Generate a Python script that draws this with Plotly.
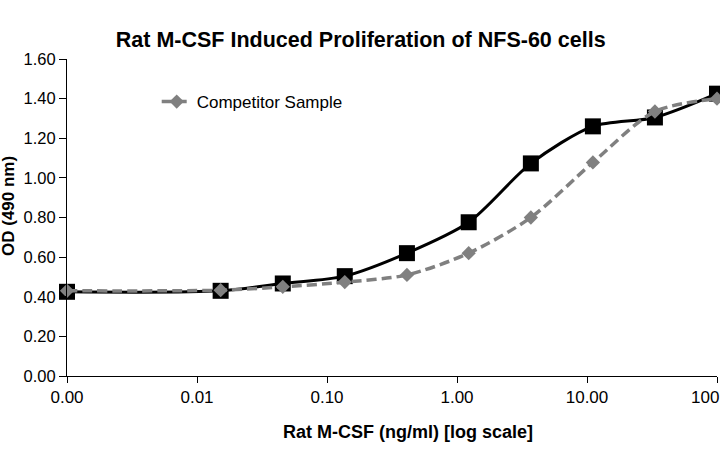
import plotly.graph_objects as go

# Concentrations (ng/ml); first point is the no-cytokine control shown at the axis start
conc = [0.001, 0.0152, 0.0457, 0.137, 0.412, 1.23, 3.70, 11.1, 33.3, 100]
rat_mcsf = [0.425, 0.43, 0.467, 0.504, 0.62, 0.776, 1.073, 1.26, 1.305, 1.425]
competitor = [0.43, 0.433, 0.45, 0.474, 0.51, 0.62, 0.80, 1.078, 1.335, 1.40]

x_tickvals = [0.001, 0.01, 0.1, 1, 10, 100]
x_ticktext = ["0.00", "0.01", "0.10", "1.00", "10.00", "100.00"]

FONT = "Liberation Sans, Arial, sans-serif"

fig = go.Figure()
fig.add_trace(go.Scatter(
    x=conc, y=rat_mcsf, mode="lines+markers", name="Rat M-CSF",
    line=dict(color="black", width=3, shape="spline", smoothing=0.8),
    marker=dict(symbol="square", size=16, color="black"),
    showlegend=False, cliponaxis=False,
))
fig.add_trace(go.Scatter(
    x=conc, y=competitor, mode="lines+markers", name="Competitor Sample",
    line=dict(color="#808080", width=3.5, shape="spline", smoothing=0.8, dash="10px,5px"),
    marker=dict(symbol="diamond", size=11, color="#808080"),
    cliponaxis=False,
))

fig.update_layout(
    width=720, height=450,
    margin=dict(l=67, r=3, t=59, b=74, autoexpand=False),
    paper_bgcolor="white", plot_bgcolor="white",
    font=dict(family=FONT, size=16, color="black"),
    title=dict(text="<b>Rat M-CSF Induced Proliferation of NFS-60 cells</b>",
               x=0.501, xanchor="center", y=1 - 39 / 450, yanchor="middle",
               font=dict(size=21.5, color="black")),
    legend=dict(x=0.138, y=0.921, xanchor="left", yanchor="top",
                bgcolor="rgba(0,0,0,0)", font=dict(size=17, color="black")),
    xaxis=dict(type="log", range=[-3, 2], tickvals=x_tickvals, ticktext=x_ticktext,
               showgrid=False, zeroline=False, showline=True, linecolor="black", linewidth=1,
               ticks="outside", ticklen=6, tickcolor="black", ticklabeloverflow="allow",
               automargin=False, tickfont=dict(size=17)),
    yaxis=dict(range=[0, 1.6], dtick=0.2, tickformat=".2f", automargin=False,
               showgrid=False, zeroline=False, showline=True, linecolor="black", linewidth=1,
               ticks="outside", ticklen=7, tickcolor="black", tickfont=dict(size=16.5)),
    annotations=[
        dict(text="<b>Rat M-CSF (ng/ml) [log scale]</b>", xref="paper", yref="paper",
             x=(408 - 67) / 650, y=(376 - 432) / 317, xanchor="center", yanchor="middle",
             showarrow=False, font=dict(size=18, color="black")),
        dict(text="<b>OD (490 nm)</b>", xref="paper", yref="paper",
             x=(8 - 67) / 650, y=(376 - 206) / 317, xanchor="center", yanchor="middle",
             textangle=-90, showarrow=False, font=dict(size=17, color="black")),
    ],
)

fig.write_html("out.html", config={"displayModeBar": False},
               post_script="document.body.style.margin='0';")
